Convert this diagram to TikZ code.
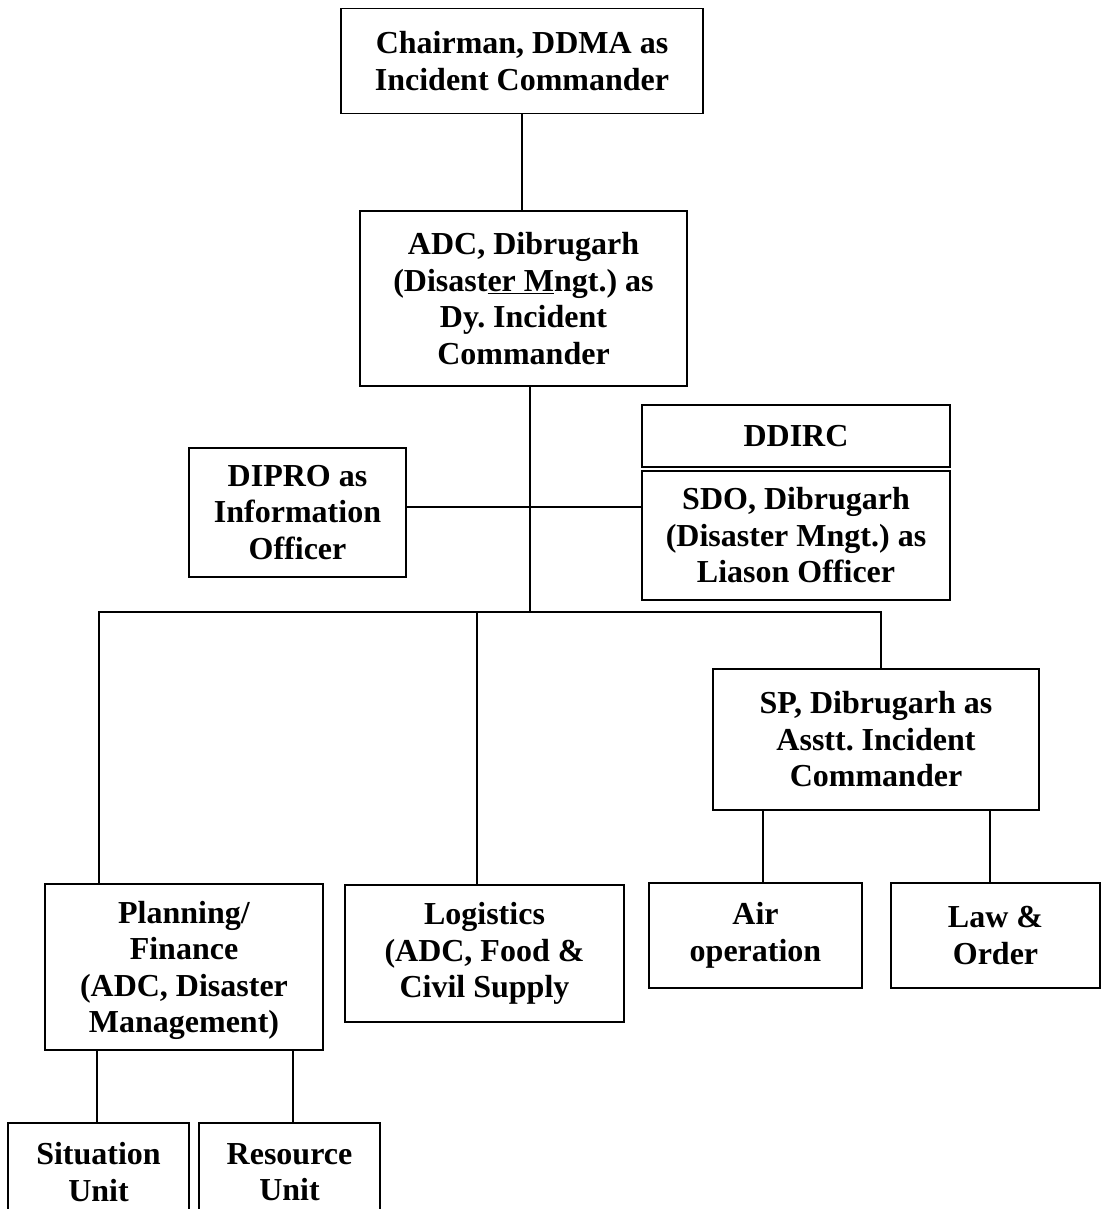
\documentclass[tikz,border=0pt]{standalone}
\usepackage{fontspec}
\setmainfont{Liberation Serif}
\frenchspacing
\usetikzlibrary{positioning}
\tikzset{
  box/.style  = {rectangle, draw, line width=1.7pt, align=center,
                 inner sep=0pt, font=\fontsize{32}{36.5}\selectfont\bfseries},
  conn/.style = {line width=1.7pt}
}

\begin{document}
\begin{tikzpicture}[x=1pt,y=-1pt]
  \useasboundingbox (0,0) rectangle (1101,1209);
  \node[box,minimum width=362pt,minimum height=105pt] (chair) at (522,61)
    {Chairman, DDMA as\\Incident Commander};
  \node[box,minimum width=327pt,minimum height=175pt] (adc) at (523.5,298.5)
    {ADC, Dibrugarh\\(Disast\underline{er M}ngt.) as\\Dy. Incident\\Commander};
  \node[box,minimum width=308pt,minimum height=62pt] (ddirc) at (796,436) {DDIRC};
  \node[box,minimum width=308pt,minimum height=129pt,below=2pt of ddirc] (sdo)
    {SDO, Dibrugarh\\(Disaster Mngt.) as\\Liason Officer};
  \node[box,minimum width=217pt,minimum height=129pt] (dipro) at (297.5,512.5)
    {DIPRO as\\Information\\Officer};
  \node[box,minimum width=326pt,minimum height=141pt] (sp) at (876,739.5)
    {SP, Dibrugarh as\\Asstt. Incident\\Commander};
  \node[box,minimum width=213pt,minimum height=105pt] (air) at (755.5,935.5)
    {Air\\operation};
  \node[box,minimum width=209pt,minimum height=105pt] (law) at (995.5,935.5)
    {Law \&\\Order};
  \node[box,minimum width=279pt,minimum height=137pt] (logi) at (484.5,953.5)
    {Logistics\\(ADC, Food \&\\Civil Supply};
  \node[box,minimum width=278pt,minimum height=166pt,text depth=-8pt] (plan) at (184,967)
    {Planning/\\Finance\\(ADC, Disaster\\Management)};
  \node[box,minimum width=181pt,minimum height=98pt] (sit) at (98.5,1172)
    {Situation\\Unit};
  \node[box,minimum width=181pt,minimum height=98pt] (res) at (289.5,1172)
    {Resource\\Unit};

  % connectors
  \coordinate (hub) at (530,612);
  \coordinate (side) at (530,507);
  \coordinate (bl) at (99,612);
  \coordinate (bm) at (477,612);
  \coordinate (br) at (881,612);
  \coordinate (ta) at (763,0);
  \coordinate (tl) at (990,0);
  \coordinate (ts) at (97,0);
  \coordinate (tr) at (293,0);

  \draw[conn](chair.south)--(chair.south|-adc.north);
  \draw[conn](adc.south-|hub)--(hub);
  \draw[conn](dipro.east|-side)--(sdo.west|-side);
  \draw[conn](bl|-plan.north)--(bl)--(br)--(br|-sp.north);
  \draw[conn](bm)--(bm|-logi.north);
  \draw[conn](ta|-sp.south)--(ta|-air.north);
  \draw[conn](tl|-sp.south)--(tl|-law.north);
  \draw[conn](ts|-plan.south)--(ts|-sit.north);
  \draw[conn](tr|-plan.south)--(tr|-res.north);
\end{tikzpicture}
\end{document}
